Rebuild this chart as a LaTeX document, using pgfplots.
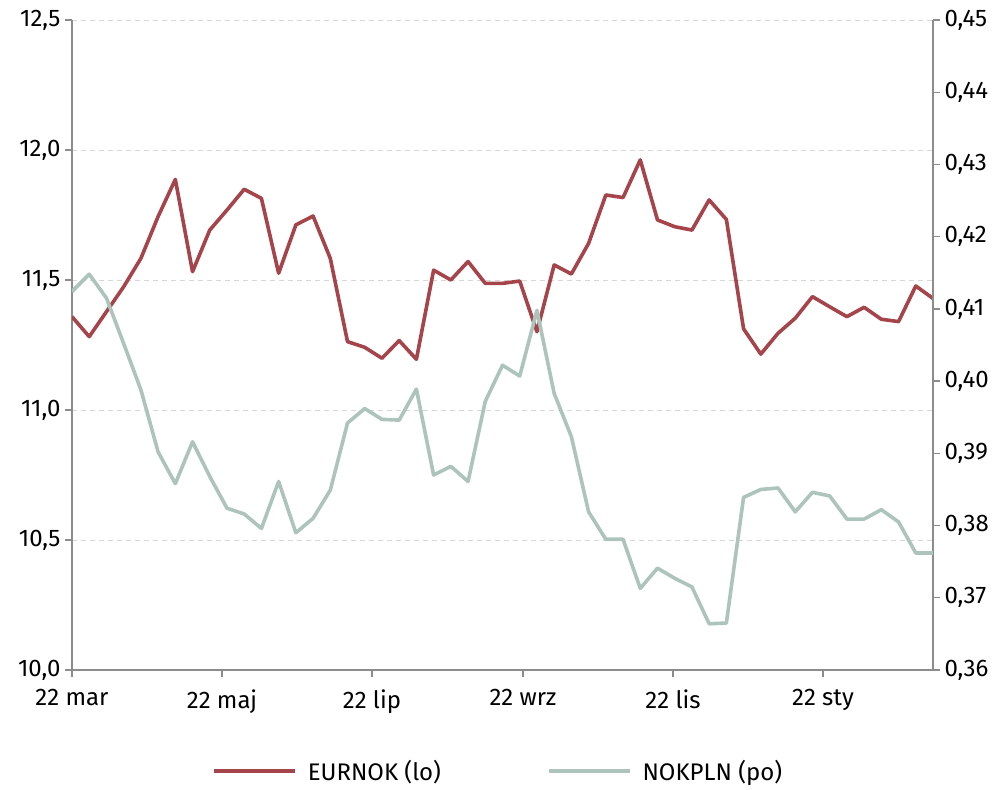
\documentclass[border=0pt]{standalone}
\usepackage{fontspec}
\setmainfont{Fira Sans}
\usepackage{pgfplots}
\usepackage{pgfplotstable}
\pgfplotsset{compat=1.18}
\definecolor{eur}{RGB}{165,68,74}
\definecolor{nok}{RGB}{172,196,188}
\definecolor{axg}{RGB}{140,140,140}
\definecolor{grd}{RGB}{215,215,215}

\pgfplotstableread{
i v
0 11.359
1 11.282
2 11.378
3 11.474
4 11.583
5 11.744
6 11.887
7 11.532
8 11.692
9 11.769
10 11.849
11 11.814
12 11.526
13 11.712
14 11.746
15 11.583
16 11.263
17 11.241
18 11.199
19 11.267
20 11.195
21 11.538
22 11.500
23 11.571
24 11.487
25 11.487
26 11.496
27 11.301
28 11.558
29 11.523
30 11.641
31 11.827
32 11.817
33 11.962
34 11.731
35 11.705
36 11.692
37 11.808
38 11.733
39 11.312
40 11.215
41 11.295
42 11.353
43 11.436
44 11.397
45 11.359
46 11.395
47 11.349
48 11.340
49 11.477
50 11.429
}\eurnok

\pgfplotstableread{
i v
0 0.4124
1 0.4148
2 0.4115
3 0.4052
4 0.3988
5 0.3902
6 0.3858
7 0.3916
8 0.3868
9 0.3824
10 0.3816
11 0.3796
12 0.3861
13 0.3790
14 0.3810
15 0.3849
16 0.3942
17 0.3962
18 0.3947
19 0.3946
20 0.3989
21 0.3870
22 0.3882
23 0.3861
24 0.3972
25 0.4022
26 0.4007
27 0.4098
28 0.3983
29 0.3923
30 0.3819
31 0.3781
32 0.3781
33 0.3713
34 0.3741
35 0.3727
36 0.3715
37 0.3664
38 0.3665
39 0.3839
40 0.3850
41 0.3852
42 0.3819
43 0.3846
44 0.3841
45 0.3809
46 0.3809
47 0.3822
48 0.3805
49 0.3762
50 0.3762
}\nokpln

\pgfplotsset{
  every tick label/.append style={font=\fontsize{24}{28}\selectfont, text=black},
  tick style={axg, line width=1.3pt},
  major tick length=7pt,
  tick align=outside,
}

\begin{document}
\begin{tikzpicture}
\useasboundingbox (-72pt,-120pt) rectangle (935pt,670pt);
\begin{axis}[
  scale only axis, width=861pt, height=650pt,
  xmin=0, xmax=50, ymin=10, ymax=12.5,
  axis x line*=bottom, axis y line*=left,
  axis line style={axg, line width=1.5pt, -},
  xtick={0,8.71,17.42,26.19,34.90,43.61},
  xticklabels={22 mar, 22 maj, 22 lip, 22 wrz, 22 lis, 22 sty},
  xticklabel style={yshift=-9pt},
  ytick={10,10.5,11,11.5,12,12.5},
  yticklabel style={xshift=-1pt, /pgf/number format/.cd, fixed, fixed zerofill, precision=1, use comma, assume math mode=true},
  ymajorgrids,
  grid style={grd, line width=0.8pt, dash pattern=on 5pt off 4pt},
  legend style={at={(0.495,-0.155)}, anchor=center, draw=none, fill=none,
    legend columns=2, font=\fontsize{24}{28}\selectfont,
    /tikz/every odd column/.append style={column sep=9pt},
    /tikz/every even column/.append style={column sep=104pt}},
  legend image code/.code={\draw[#1] (0pt,0pt) -- (81pt,0pt);},
]
\addplot[eur, line width=3.6pt, line join=round] table[x=i, y=v] {\eurnok};
\addlegendentry{EURNOK (lo)}
\addlegendimage{nok, line width=3.6pt}
\addlegendentry{NOKPLN (po)}
\end{axis}
\begin{axis}[
  scale only axis, width=861pt, height=650pt,
  xmin=0, xmax=50, ymin=0.36, ymax=0.45,
  axis x line=none, axis y line*=right,
  axis line style={axg, line width=1.5pt, -},
  ytick={0.36,0.37,0.38,0.39,0.40,0.41,0.42,0.43,0.44,0.45},
  yticklabel style={xshift=1pt, /pgf/number format/.cd, fixed, fixed zerofill, precision=2, use comma, assume math mode=true},
]
\addplot[nok, line width=3.6pt, line join=round] table[x=i, y=v] {\nokpln};
\end{axis}
\end{tikzpicture}
\end{document}
